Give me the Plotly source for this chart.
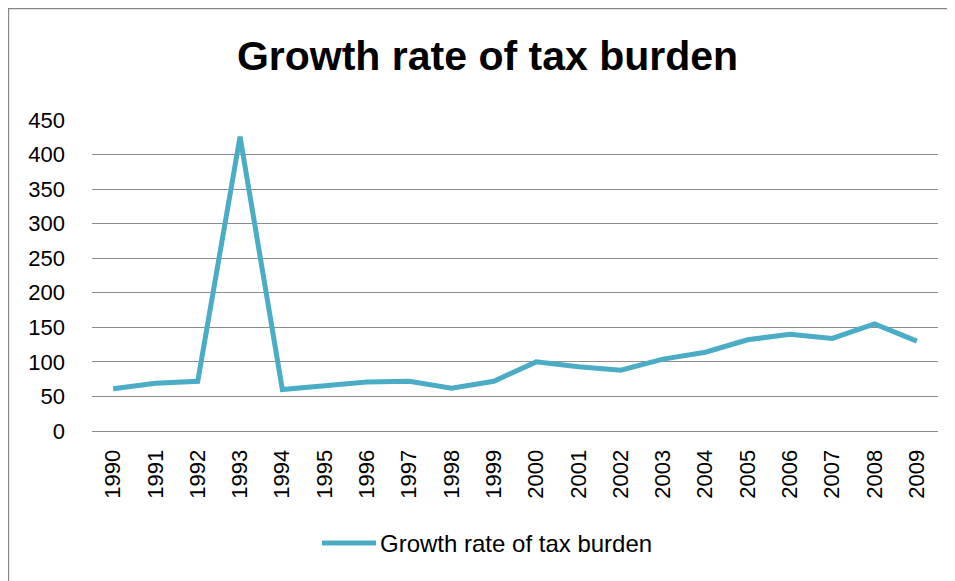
import plotly.graph_objects as go

years = [str(y) for y in range(1990, 2010)]
values = [61, 69, 72, 426, 60, 65, 71, 72, 62, 72, 100, 93, 88, 104, 114, 132, 140, 134, 155, 130]
y_ticks = [0, 50, 100, 150, 200, 250, 300, 350, 400, 450]
series_name = "Growth rate of tax burden"
title_text = "Growth rate of tax burden"

# the page body adds an 8px offset, so the figure is drawn 8px smaller
W, H = 947, 573
L, R, T, B = 84, 17, 112, 150
pw, ph = W - L - R, H - T - B

def px(x):
    return (x - L) / pw

def py(y):
    return (H - B - y) / ph

LINE = "#4bacc6"
GRID = "#8c8c8c"
FONT = "Liberation Sans"

fig = go.Figure()
fig.add_trace(go.Scatter(x=years, y=values, mode="lines", name=series_name,
                         line=dict(color=LINE, width=5), showlegend=False))

fig.update_layout(
    width=W, height=H,
    margin=dict(l=L, r=R, t=T, b=B),
    paper_bgcolor="white", plot_bgcolor="white",
    font=dict(family=FONT, color="black"),
    title=dict(text="<b>%s</b>" % title_text, x=479.5 / W, xanchor="center",
               y=1 - 48 / H, yanchor="middle", xref="container", yref="container",
               font=dict(family=FONT, size=41, color="black")),
    xaxis=dict(type="category", range=[-0.5, 19.5], showgrid=False, zeroline=False,
               showline=True, linecolor=GRID, linewidth=1, ticks="",
               tickangle=-90, tickfont=dict(size=22), ticklabelstandoff=9),
    yaxis=dict(range=[0, 450], tickvals=y_ticks, showgrid=True, gridcolor=GRID,
               gridwidth=1, zeroline=False, showline=False, ticks="",
               tickfont=dict(size=22), ticklabelstandoff=26),
    shapes=[
        dict(type="rect", xref="paper", yref="paper",
             x0=px(0.5), x1=px(960), y0=py(0.5), y1=py(590),
             line=dict(color="#868686", width=1.3), fillcolor="rgba(0,0,0,0)", layer="below"),
        dict(type="line", xref="paper", yref="paper",
             x0=px(314), x1=px(368), y0=py(535), y1=py(535),
             line=dict(color=LINE, width=5)),
    ],
    annotations=[
        dict(text=series_name, xref="paper", yref="paper", x=px(370), y=py(535),
             xanchor="left", yanchor="middle", showarrow=False,
             font=dict(family=FONT, size=24, color="black")),
    ],
)

fig.write_html("out.html")
